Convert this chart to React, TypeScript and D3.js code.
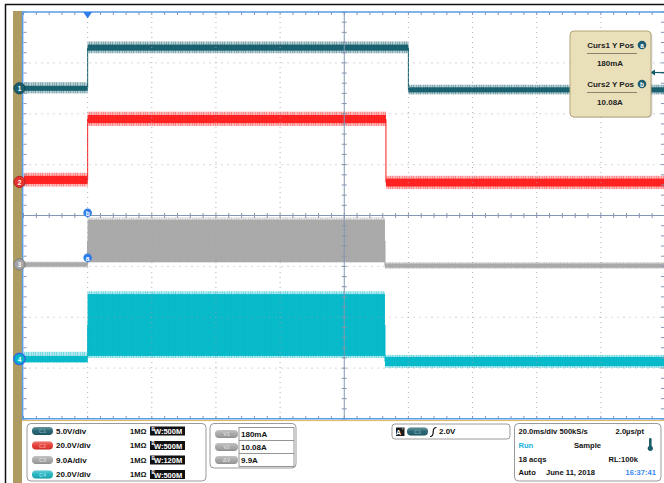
import React from 'react';
import * as d3 from 'd3';

const W = 664;
const H = 483;

// ---- Acquisition settings ----
const timeDomain = [-20, 180]; // ms, 20 ms/div, 10 div
const divDomain = [-4, 4]; // vertical divisions
const timeMinor = 4; // ms
const divMinor = 0.2;

// ---- Channel settings ----
const chNames = ['C1', 'C2', 'C3', 'C4'];
const chNums = ['1', '2', '3', '4'];
const chScales = [5, 20, 9, 20]; // units / div
const chOffsets = [2.5, 0.66, -0.96, -2.82]; // div
const chColors = ['#125c6c', '#ff1a1a', '#a6a6a6', '#00b7c7'];
const chPill = ['#1d5e6c', '#e5342b', '#a3a3a3', '#19b1be'];
const chPillText = ['#6fa3b0', '#f39088', '#d6d6d6', '#86dbe2'];
const chLabels = ['5.0V/div', '20.0V/div', '9.0A/div', '20.0V/div'];
const chImp = ['1MΩ', '1MΩ', '1MΩ', '1MΩ'];
const chBW = ['500M', '500M', '120M', '500M'];

// ---- Waveforms: step segments (boundary times in ms) ----
const ch1Edges = [-20, 0, 100, 180];
const ch1CoreLo = [-0.25, 3.7, -0.4];
const ch1CoreHi = [0.25, 4.3, 0.1];
const ch1SpikeLo = [-0.5, 3.45, -0.6];
const ch1SpikeHi = [0.6, 4.6, 0.35];

const ch2Edges = [-20, 0, 93, 180];
const ch2CoreLo = [-0.8, 23.1, -1.8];
const ch2CoreHi = [2.4, 26.3, 1.3];
const ch2SpikeLo = [-1.8, 22.0, -2.8];
const ch2SpikeHi = [3.6, 27.6, 2.4];

const ch3Edges = [-20, 0, 92.7, 180];
const ch3CoreLo = [-0.4, 0.4, -0.6];
const ch3CoreHi = [0.35, 7.9, 0.15];
const ch3SpikeLo = [-0.55, 0.3, -0.8];
const ch3SpikeHi = [0.5, 8.3, 0.4];

const ch4Edges = [-20, 0, 92.7, 180];
const ch4CoreLo = [-1.2, 1.2, -2.8];
const ch4CoreHi = [1.2, 25.5, 0.8];
const ch4SpikeLo = [-1.6, 0.4, -3.5];
const ch4SpikeHi = [2.8, 26.6, 1.6];

const waves = [
  { edges: ch1Edges, coreLo: ch1CoreLo, coreHi: ch1CoreHi, spikeLo: ch1SpikeLo, spikeHi: ch1SpikeHi },
  { edges: ch2Edges, coreLo: ch2CoreLo, coreHi: ch2CoreHi, spikeLo: ch2SpikeLo, spikeHi: ch2SpikeHi },
  { edges: ch3Edges, coreLo: ch3CoreLo, coreHi: ch3CoreHi, spikeLo: ch3SpikeLo, spikeHi: ch3SpikeHi },
  { edges: ch4Edges, coreLo: ch4CoreLo, coreHi: ch4CoreHi, spikeLo: ch4SpikeLo, spikeHi: ch4SpikeHi },
];

// ---- Cursors / trigger ----
const triggerTime = 0; // ms
const triggerArrowLevel = 1.55; // V on C1
const cursorLetters = ['b', 'a'];
const cursorMarkerLevels = [9.13, 1.17]; // A on C3 (marker positions)
const cursorTitles = ['Curs1 Y Pos', 'Curs2 Y Pos'];
const cursorTitleLetters = ['a', 'b'];
const cursorValues = ['180mA', '10.08A'];

// ---- Readouts ----
const deltaLabels = ['V1', 'V2', 'ΔV'];
const deltaValues = ['180mA', '10.08A', '9.9A'];
const triggerLabel = '2.0V';
const hRow1 = ['20.0ms/div 500kS/s', '2.0µs/pt'];
const hRow2 = ['Run', 'Sample'];
const hRow3 = ['18 acqs', 'RL:100k'];
const hRow4 = ['Auto', 'June 11, 2018', '16:37:41'];

const FONT = "'Liberation Sans', Arial, Helvetica, sans-serif";

export default function App() {
  const x = d3.scaleLinear().domain(timeDomain).range([23.5, 665]);
  const yDiv = d3.scaleLinear().domain(divDomain).range([419, 12]);
  const chY = (ci: number, v: number) => yDiv(chOffsets[ci] + v / chScales[ci]);

  const plotL = 23.5, plotR = 665, plotT = 12, plotB = 419;
  const xc = x((timeDomain[0] + timeDomain[1]) / 2);
  const yc = yDiv(0);

  const majorT = d3.range(timeDomain[0] + 20, timeDomain[1], 20);
  const majorD = d3.range(divDomain[0] + 1, divDomain[1], 1);
  const minorT = d3.range(timeDomain[0], timeDomain[1] + 0.001, timeMinor);
  const minorD = d3.range(divDomain[0], divDomain[1] + 0.001, divMinor);

  const gridCol = '#9aa0a8';
  const axisCol = '#8496b0';

  const traces = [3, 2, 1, 0].map((ci) => {
    const w = waves[ci];
    const col = chColors[ci];
    const els: any[] = [];
    for (let i = 0; i < w.edges.length - 1; i++) {
      const x0 = x(w.edges[i]);
      const x1 = x(w.edges[i + 1]);
      const sTop = chY(ci, w.spikeHi[i]);
      const sBot = chY(ci, w.spikeLo[i]);
      const cTop = chY(ci, w.coreHi[i]);
      const cBot = chY(ci, w.coreLo[i]);
      els.push(
        <rect key={`s${i}`} x={x0} y={sTop} width={x1 - x0} height={sBot - sTop} fill={col} opacity={0.3} />
      );
      els.push(
        <rect key={`p${i}`} x={x0} y={sTop} width={x1 - x0} height={sBot - sTop} fill={`url(#noise${ci})`} />
      );
      els.push(
        <rect key={`c${i}`} x={x0} y={cTop} width={x1 - x0} height={cBot - cTop} fill={col} opacity={0.95} />
      );
      if (i > 0) {
        const prevMid = chY(ci, (w.coreLo[i - 1] + w.coreHi[i - 1]) / 2);
        const curMid = chY(ci, (w.coreLo[i] + w.coreHi[i]) / 2);
        els.push(
          <line key={`e${i}`} x1={x0} x2={x0} y1={prevMid} y2={curMid} stroke={col} strokeWidth={1} />
        );
      }
    }
    return <g key={ci}>{els}</g>;
  });

  const rowY = [431, 445.5, 460, 474.5];

  return (
    <svg width={W} height={H} viewBox={`0 0 ${W} ${H}`} style={{ position: 'absolute', left: 0, top: 0, background: '#fff' }} fontFamily={FONT}>
      <defs>
        {chColors.map((c, i) => (
          <pattern key={i} id={`noise${i}`} width={7} height={3} patternUnits="userSpaceOnUse">
            <rect x={0} y={0} width={1} height={3} fill={c} opacity={0.35} />
            <rect x={3} y={0} width={1} height={3} fill={c} opacity={0.25} />
            <rect x={5} y={0} width={1} height={3} fill={c} opacity={0.3} />
          </pattern>
        ))}
        <linearGradient id="gloss" x1="0" y1="0" x2="0" y2="1">
          <stop offset="0" stopColor="#fff" stopOpacity={0.35} />
          <stop offset="0.5" stopColor="#fff" stopOpacity={0.05} />
          <stop offset="1" stopColor="#000" stopOpacity={0.15} />
        </linearGradient>
        <clipPath id="plotClip">
          <rect x={plotL} y={plotT} width={plotR - plotL} height={plotB - plotT} />
        </clipPath>
      </defs>

      {/* outer frame */}
      <line x1={5} x2={W} y1={4.5} y2={4.5} stroke="#111" strokeWidth={1.5} />
      <line x1={5.5} x2={5.5} y1={4} y2={H} stroke="#111" strokeWidth={1.5} />
      <rect x={13} y={11} width={9} height={H - 11} fill="#ae9b61" />

      {/* traces */}
      <g clipPath="url(#plotClip)">{traces}</g>

      {/* dotted grid */}
      <g clipPath="url(#plotClip)">
        {majorT.filter((t) => t !== 80).map((t) => (
          <line key={`gv${t}`} x1={x(t)} x2={x(t)} y1={plotT} y2={plotB} stroke={gridCol} strokeWidth={1} strokeDasharray="1 4" opacity={0.8} />
        ))}
        {majorD.filter((d) => d !== 0).map((d) => (
          <line key={`gh${d}`} x1={plotL} x2={plotR} y1={yDiv(d)} y2={yDiv(d)} stroke={gridCol} strokeWidth={1} strokeDasharray="1 5" opacity={0.8} />
        ))}
      </g>

      {/* center axes */}
      <line x1={xc} x2={xc} y1={plotT} y2={plotB} stroke={axisCol} strokeWidth={1} />
      <line x1={plotL} x2={plotR} y1={yc} y2={yc} stroke={axisCol} strokeWidth={1} />
      {minorD.map((d, i) => (
        <line key={`cvt${i}`} x1={xc - 2.5} x2={xc + 2.5} y1={yDiv(d)} y2={yDiv(d)} stroke={axisCol} strokeWidth={1} />
      ))}
      {minorT.map((t, i) => (
        <line key={`cht${i}`} x1={x(t)} x2={x(t)} y1={yc - 2.5} y2={yc + 2.5} stroke={axisCol} strokeWidth={1} />
      ))}

      {/* edge ticks */}
      {minorT.map((t, i) => (
        <g key={`et${i}`}>
          <line x1={x(t)} x2={x(t)} y1={plotT} y2={plotT + 3} stroke={axisCol} strokeWidth={1} />
          <line x1={x(t)} x2={x(t)} y1={plotB} y2={plotB - 3} stroke={axisCol} strokeWidth={1} />
        </g>
      ))}
      {minorD.map((d, i) => (
        <g key={`ed${i}`}>
          <line x1={plotL} x2={plotL + 3} y1={yDiv(d)} y2={yDiv(d)} stroke={axisCol} strokeWidth={1} />
          <line x1={W} x2={W - 3} y1={yDiv(d)} y2={yDiv(d)} stroke={axisCol} strokeWidth={1} />
        </g>
      ))}

      {/* plot border */}
      <line x1={22} x2={W} y1={12} y2={12} stroke="#5b9be6" strokeWidth={1.6} />
      <line x1={22.6} x2={22.6} y1={11.2} y2={420} stroke="#5b9be6" strokeWidth={1.6} />
      <line x1={22} x2={W} y1={418.8} y2={418.8} stroke="#5b9be6" strokeWidth={1.6} />
      <line x1={22} x2={W} y1={420.6} y2={420.6} stroke="#d8b85a" strokeWidth={1} />

      {/* trigger position marker */}
      <path d={`M${x(triggerTime) - 4.5},${plotT} L${x(triggerTime) + 4.5},${plotT} L${x(triggerTime)},${plotT + 6.5} Z`} fill="#2f7de8" />

      {/* cursor markers */}
      {cursorLetters.map((l, i) => (
        <g key={`cm${i}`}>
          <circle cx={x(triggerTime)} cy={chY(2, cursorMarkerLevels[i])} r={4.3} fill="#2f7de8" />
          <text x={x(triggerTime)} y={chY(2, cursorMarkerLevels[i]) + 0.3} fontSize={6.5} fontWeight="bold" fill="#fff" textAnchor="middle" dominantBaseline="central">{l}</text>
        </g>
      ))}

      {/* channel reference markers */}
      {chNums.map((n, ci) => (
        <g key={`mk${ci}`}>
          <circle cx={19.5} cy={chY(ci, 0)} r={5.6} fill={ci === 3 ? chColors[3] : chPill[ci]} stroke={ci === 3 ? '#2d6fe0' : d3.color(chPill[ci])!.darker(0.8).toString()} strokeWidth={ci === 3 ? 1.6 : 1} />
          <text x={19.5} y={chY(ci, 0) + 0.3} fontSize={6.5} fontWeight="bold" fill="#fff" textAnchor="middle" dominantBaseline="central">{n}</text>
        </g>
      ))}

      {/* trigger level arrow */}
      <line x1={W} x2={653} y1={chY(0, triggerArrowLevel)} y2={chY(0, triggerArrowLevel)} stroke={chColors[0]} strokeWidth={1.2} />
      <path d={`M650.5,${chY(0, triggerArrowLevel)} L655,${chY(0, triggerArrowLevel) - 3} L655,${chY(0, triggerArrowLevel) + 3} Z`} fill={chColors[0]} />

      {/* cursor readout box */}
      <rect x={571.5} y={32} width={81} height={86} rx={4} fill="#000" opacity={0.12} />
      <rect x={570} y={31} width={81} height={86} rx={4} fill="#e9dfb9" stroke="#b3a57a" strokeWidth={1} />
      {cursorTitles.map((t, i) => {
        const y0 = 45 + i * 39;
        return (
          <g key={`cb${i}`}>
            <text x={634} y={y0} fontSize={8} fontWeight="bold" fill="#222" textAnchor="end" dominantBaseline="central">{t}</text>
            <circle cx={642} cy={y0} r={4.3} fill="#1d5e72" />
            <text x={642} y={y0 + 0.3} fontSize={6.5} fontWeight="bold" fill="#fff" textAnchor="middle" dominantBaseline="central">{cursorTitleLetters[i]}</text>
            <line x1={587} x2={637} y1={y0 + 8.5} y2={y0 + 8.5} stroke="#8c8270" strokeWidth={1} />
            <text x={610} y={y0 + 18.5} fontSize={8} fontWeight="bold" fill="#222" textAnchor="middle" dominantBaseline="central">{cursorValues[i]}</text>
          </g>
        );
      })}

      {/* ---- bottom panels ---- */}
      <rect x={27} y={423.5} width={179} height={57.5} rx={4} fill="#fff" stroke="#9a9a9a" strokeWidth={1} />
      {chNames.map((c, ci) => (
        <g key={`cp${ci}`}>
          <rect x={32} y={rowY[ci] - 4} width={21} height={8} rx={4} fill={chPill[ci]} />
          <rect x={32} y={rowY[ci] - 4} width={21} height={8} rx={4} fill="url(#gloss)" />
          <text x={42.5} y={rowY[ci] + 0.3} fontSize={5.5} fontWeight="bold" fill={chPillText[ci]} textAnchor="middle" dominantBaseline="central">{c}</text>
          <text x={56} y={rowY[ci]} fontSize={8} fontWeight="bold" fill="#111" dominantBaseline="central">{chLabels[ci]}</text>
          <text x={130} y={rowY[ci]} fontSize={7.5} fontWeight="bold" fill="#111" dominantBaseline="central">{chImp[ci]}</text>
          <rect x={150} y={rowY[ci] - 4.5} width={35} height={9} fill="#111" />
          <text x={151.5} y={rowY[ci] - 2} fontSize={4.5} fontWeight="bold" fill="#fff" dominantBaseline="central">B</text>
          <text x={154} y={rowY[ci] + 0.8} fontSize={7.5} fontWeight="bold" fill="#fff" dominantBaseline="central">W:{chBW[ci]}</text>
        </g>
      ))}

      <rect x={210} y={423.5} width={86} height={44.5} rx={4} fill="#fff" stroke="#9a9a9a" strokeWidth={1} />
      <rect x={239} y={427.5} width={55} height={39} fill="#fff" stroke="#7a7a7a" strokeWidth={0.8} />
      <line x1={239} x2={294} y1={440.5} y2={440.5} stroke="#7a7a7a" strokeWidth={0.8} />
      <line x1={239} x2={294} y1={453.5} y2={453.5} stroke="#7a7a7a" strokeWidth={0.8} />
      {deltaLabels.map((l, i) => {
        const yy = 434 + i * 13;
        return (
          <g key={`dl${i}`}>
            <rect x={215} y={yy - 4} width={23} height={8} rx={4} fill="#a3a3a3" />
            <rect x={215} y={yy - 4} width={23} height={8} rx={4} fill="url(#gloss)" />
            <text x={226.5} y={yy + 0.3} fontSize={5.5} fontWeight="bold" fill="#d8d8d8" textAnchor="middle" dominantBaseline="central">{l}</text>
            <text x={241} y={yy} fontSize={8} fontWeight="bold" fill="#111" dominantBaseline="central">{deltaValues[i]}</text>
          </g>
        );
      })}

      <rect x={392} y={424} width={118} height={15} rx={3} fill="#fff" stroke="#9a9a9a" strokeWidth={1} />
      <rect x={396} y={427.5} width={8.5} height={8.5} fill="#1a1a1a" />
      <text x={398.5} y={432} fontSize={7} fontWeight="bold" fill="#fff" textAnchor="middle" dominantBaseline="central">A</text>
      <text x={402.5} y={430} fontSize={5} fontWeight="bold" fill="#fff" textAnchor="middle" dominantBaseline="central">'</text>
      <rect x={407} y={427.5} width={21} height={8} rx={4} fill={chPill[0]} />
      <rect x={407} y={427.5} width={21} height={8} rx={4} fill="url(#gloss)" />
      <text x={417.5} y={431.8} fontSize={5.5} fontWeight="bold" fill={chPillText[0]} textAnchor="middle" dominantBaseline="central">{chNames[0]}</text>
      <path d="M430,436.5 Q433.2,436.5 433.2,432 Q433.2,427.5 436.5,427.5" fill="none" stroke="#111" strokeWidth={1.2} />
      <text x={439} y={431.5} fontSize={8} fontWeight="bold" fill="#111" dominantBaseline="central">{triggerLabel}</text>

      <rect x={514.5} y={423.5} width={146.5} height={57.5} rx={4} fill="#fff" stroke="#9a9a9a" strokeWidth={1} />
      <text x={518.5} y={431} fontSize={7.6} fontWeight="bold" fill="#111" dominantBaseline="central">{hRow1[0]}</text>
      <text x={644} y={431} fontSize={7.6} fontWeight="bold" fill="#111" textAnchor="end" dominantBaseline="central">{hRow1[1]}</text>
      <text x={518.5} y={445.5} fontSize={7.6} fontWeight="bold" fill="#1ab2d6" dominantBaseline="central">{hRow2[0]}</text>
      <text x={574} y={445.5} fontSize={7.6} fontWeight="bold" fill="#111" dominantBaseline="central">{hRow2[1]}</text>
      <rect x={649} y={438} width={2.6} height={9} rx={1.2} fill="#1d5e6c" />
      <circle cx={650.3} cy={448.3} r={2.6} fill="#1d5e6c" />
      <text x={518.5} y={459.5} fontSize={7.6} fontWeight="bold" fill="#111" dominantBaseline="central">{hRow3[0]}</text>
      <text x={638} y={459.5} fontSize={7.6} fontWeight="bold" fill="#111" textAnchor="end" dominantBaseline="central">{hRow3[1]}</text>
      <text x={518.5} y={472.5} fontSize={7.6} fontWeight="bold" fill="#111" dominantBaseline="central">{hRow4[0]}</text>
      <text x={546} y={472.5} fontSize={7.6} fontWeight="bold" fill="#111" dominantBaseline="central">{hRow4[1]}</text>
      <text x={656} y={472.5} fontSize={7.6} fontWeight="bold" fill="#3a88f0" textAnchor="end" dominantBaseline="central">{hRow4[2]}</text>
    </svg>
  );
}
